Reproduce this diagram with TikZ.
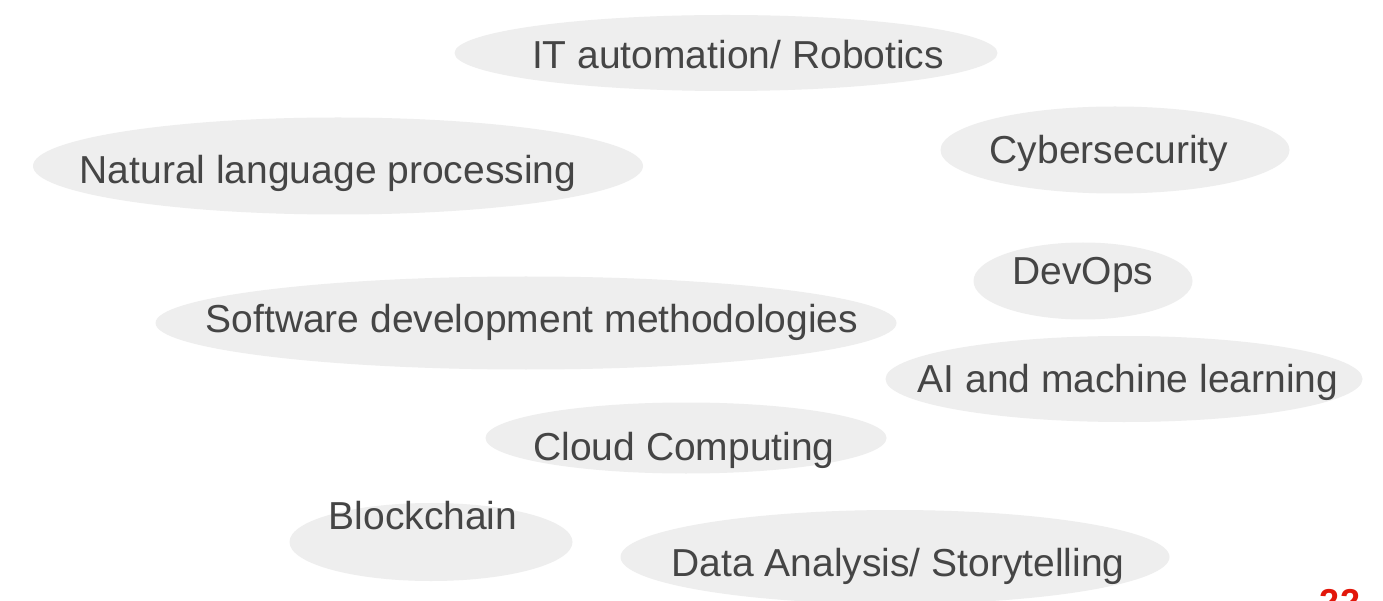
\documentclass[tikz,border=0pt]{standalone}
\usepackage{fontspec}
\setmainfont{Liberation Sans}
\usetikzlibrary{shapes.geometric}
\definecolor{tpInk}{HTML}{454545}
\definecolor{tpBlob}{HTML}{EEEEEE}
\definecolor{tpRed}{HTML}{E2170B}
\tikzset{
 topics/.style={line cap=round,line join=round},
 blob/.style={ellipse,fill=tpBlob,draw=none,inner sep=0pt},
 topic/.style={anchor=base,inner sep=0pt,text=tpInk,font=\fontsize{39}{44}\selectfont},
 pagenum/.style={anchor=base,inner sep=0pt,text=tpRed,font=\fontsize{36}{40}\selectfont\bfseries}
}

\begin{document}
\begin{tikzpicture}[topics,x=1pt,y=-1pt]
 \fill[white] (0,0) rectangle (1383,601);
 \clip (0,0) rectangle (1383,601);
 % grey blobs
 \node[blob,minimum width=543,minimum height=76] (bIT) at (726,53) {};
 \node[blob,minimum width=610,minimum height=97] (bNLP) at (338,166) {};
 \node[blob,minimum width=349,minimum height=87] (bCyber) at (1115,150) {};
 \node[blob,minimum width=219,minimum height=77] (bDevOps) at (1083,281) {};
 \node[blob,minimum width=741,minimum height=93] (bSoft) at (526,323) {};
 \node[blob,minimum width=477,minimum height=86] (bAI) at (1124,379) {};
 \node[blob,minimum width=401,minimum height=71] (bCloud) at (686,438) {};
 \node[blob,minimum width=283,minimum height=78] (bBlock) at (431,542) {};
 \node[blob,minimum width=549,minimum height=94] (bData) at (895,557) {};
 % labels
 \node[topic] (tIT) at (738,69) {IT automation/ Robotics};
 \node[topic] (tNLP) at (328,184) {Natural language processing};
 \node[topic] (tCyber) at (1109,164) {Cybersecurity};
 \node[topic] (tDevOps) at (1083,285) {DevOps};
 \node[topic] (tSoft) at (532,333) {Software development methodologies};
 \node[topic] (tAI) at (1128,392) {AI and machine learning};
 \node[topic] (tCloud) at (684,460) {Cloud Computing};
 \node[topic] (tBlock) at (423,529) {Blockchain};
 \node[topic] (tData) at (898,576) {Data Analysis/ Storytelling};
 \node[pagenum] (page) at (1340,614) {22};
\end{tikzpicture}
\end{document}
